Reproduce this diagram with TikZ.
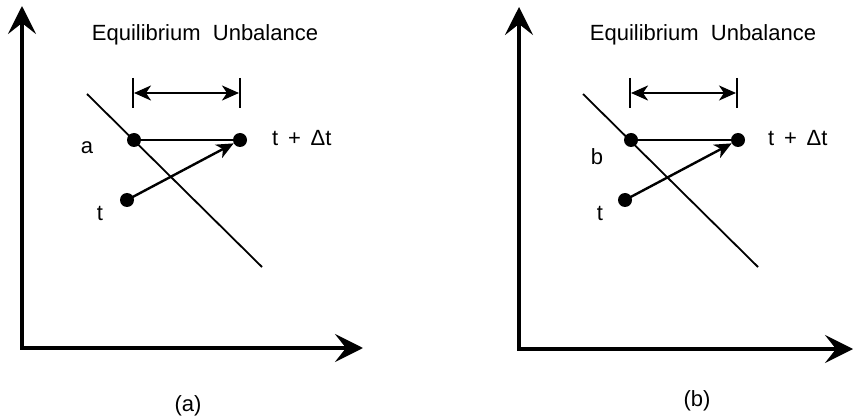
\documentclass[tikz,border=0pt]{standalone}
\usepackage{fontspec}
\setmainfont{Liberation Sans}
\usetikzlibrary{arrows.meta}
\begin{document}
\begin{tikzpicture}[x=1pt,y=-1pt,
  axis/.style={line width=3.6pt,-{Stealth[length=28pt,width=28pt,inset=11pt]}},
  dotnode/.style={circle,fill=black,inner sep=0pt,minimum size=14pt},
  lbl/.style={font=\fontsize{22}{26}\selectfont,inner sep=0pt},
  measure/.style={line width=2.4pt,{Stealth[length=17pt,width=15pt,inset=5pt]}-{Stealth[length=17pt,width=15pt,inset=5pt]}},
  move/.style={line width=2.4pt,-{Stealth[length=17pt,width=15pt,inset=5pt]}},
  tick/.style={line width=2.4pt},
  eqline/.style={line width=1.8pt}]
\useasboundingbox (0,0) rectangle (853,419);
% ---------- panel (a) ----------
\coordinate (aO) at (22,348);
\coordinate (aY) at (22,6);
\coordinate (aX) at (363,348);
\draw[axis] (aO) -- (aY);
\draw[axis] ([xshift=-1.8pt]aO) -- (aX);
\node[lbl] (atitle) at (205,35) {Equilibrium\ \ Unbalance};
\coordinate (aL1) at (133,78); \coordinate (aL2) at (133,108);
\coordinate (aR1) at (240,78); \coordinate (aR2) at (240,108);
\draw[tick] (aL1) -- (aL2);
\draw[tick] (aR1) -- (aR2);
\coordinate (aM1) at (134,93); \coordinate (aM2) at (239,93);
\draw[measure] (aM1) -- (aM2);
\coordinate (aD1) at (87,94); \coordinate (aD2) at (262,267);
\draw[eqline] (aD1) -- (aD2);
\node[dotnode] (aA) at (134,140) {};
\node[dotnode] (aB) at (240,140) {};
\node[dotnode] (aT) at (127,200) {};
\draw[line width=2.4pt] (aA) -- (aB);
\draw[move] (aT.center) -- (aB);
\node[lbl] (alab) at (87,148) {a};
\node[lbl] (atl) at (100,213) {t};
\node[lbl,anchor=west] (adt) at (272,138) {t\ \,+\ \,Δt};
\node[lbl] (acap) at (188,406) {(a)};
% ---------- panel (b) ----------
\coordinate (bO) at (519,349);
\coordinate (bY) at (519,7);
\coordinate (bX) at (853,349);
\draw[axis] (bO) -- (bY);
\draw[axis] ([xshift=-1.8pt]bO) -- (bX);
\node[lbl] (btitle) at (703,35) {Equilibrium\ \ Unbalance};
\coordinate (bL1) at (630,78); \coordinate (bL2) at (630,108);
\coordinate (bR1) at (737,78); \coordinate (bR2) at (737,108);
\draw[tick] (bL1) -- (bL2);
\draw[tick] (bR1) -- (bR2);
\coordinate (bM1) at (631,93); \coordinate (bM2) at (736,93);
\draw[measure] (bM1) -- (bM2);
\coordinate (bD1) at (583,94); \coordinate (bD2) at (758,267);
\draw[eqline] (bD1) -- (bD2);
\node[dotnode] (bA) at (631,140) {};
\node[dotnode] (bB) at (738,140) {};
\node[dotnode] (bT) at (625,200) {};
\draw[line width=2.4pt] (bA) -- (bB);
\draw[move] (bT.center) -- (bB);
\node[lbl] (blab) at (597,157) {b};
\node[lbl] (btl) at (600,213) {t};
\node[lbl,anchor=west] (bdt) at (768,138) {t\ \,+\ \,Δt};
\node[lbl] (bcap) at (697,401) {(b)};
\end{tikzpicture}
\end{document}
